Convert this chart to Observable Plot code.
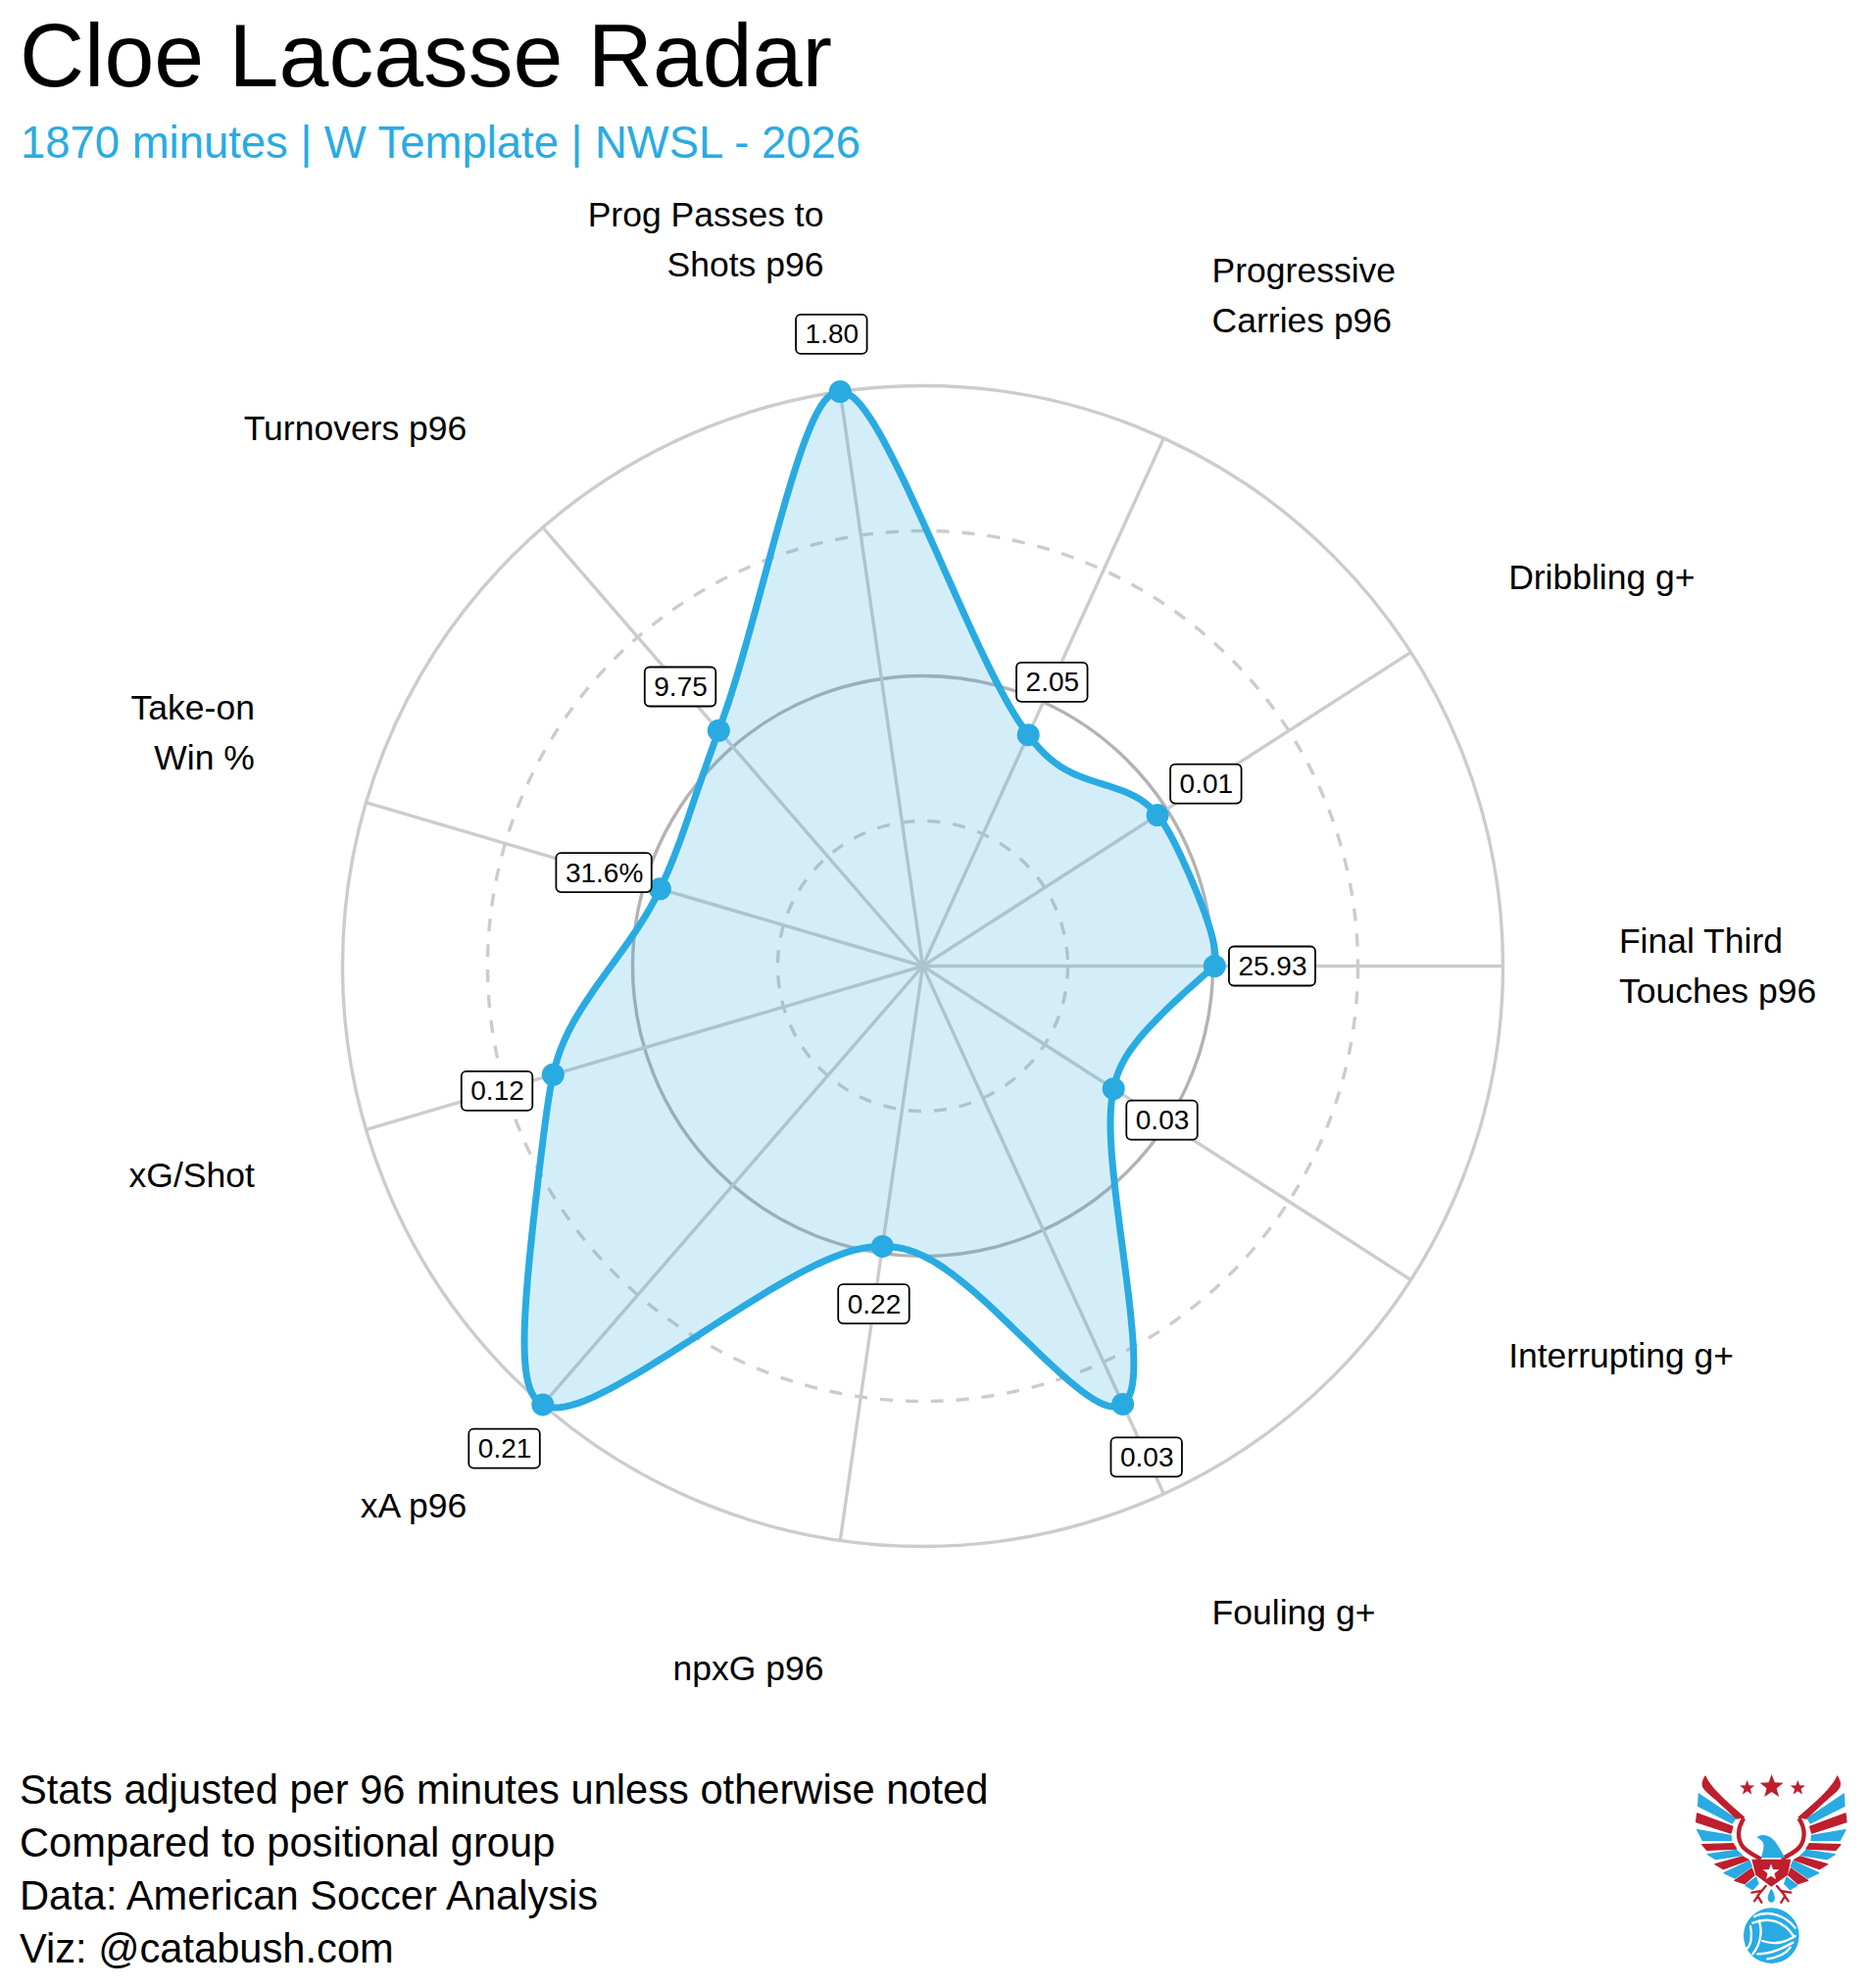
<!DOCTYPE html>
<html><head><meta charset="utf-8">
<script src="https://cdn.jsdelivr.net/npm/d3@7"></script>
<script src="https://cdn.jsdelivr.net/npm/@observablehq/plot@0.6"></script>
<style>
html,body{margin:0;padding:0;background:#fff;}
body{width:1908px;height:2028px;position:relative;overflow:hidden;font-family:"Liberation Sans",Arial,sans-serif;color:#000;}
#title{position:absolute;left:20px;top:4px;font-size:91.5px;line-height:105px;white-space:nowrap;}
#subtitle{position:absolute;left:21px;top:118px;font-size:45.45px;line-height:56px;color:#29ABE2;white-space:nowrap;}
#chart{position:absolute;left:0;top:190px;}
#caption{position:absolute;left:20px;top:1799px;font-size:41.65px;line-height:54px;white-space:pre;}
#logo{position:absolute;left:1680px;top:1780px;}
svg{display:block;}
</style></head><body>
<div id="title">Cloe Lacasse Radar</div>
<div id="subtitle">1870 minutes | W Template | NWSL - 2026</div>
<div id="chart"></div>
<div id="caption"></div>
<div id="logo"></div>
<script>
const categories = ["Final Third\nTouches p96","Dribbling g+","Progressive\nCarries p96","Prog Passes to\nShots p96","Turnovers p96","Take-on\nWin %","xG/Shot","xA p96","npxG p96","Fouling g+","Interrupting g+"];
const percentiles = [50.3,48.1,43.8,100,53.7,47.2,66.4,100,48.8,83,39.1];
const valueLabels = ["25.93","0.01","2.05","1.80","9.75","31.6%","0.12","0.21","0.22","0.03","0.03"];
const ringLevels = [25,50,75,100];
const captionLines = ["Stats adjusted per 96 minutes unless otherwise noted","Compared to positional group","Data: American Soccer Analysis","Viz: @catabush.com"];
document.getElementById("caption").textContent = captionLines.join("\n");

const W=1908,H=1600,CX=941,CY=795,PX=5.92; // px per percentile unit
const FONT='"Liberation Sans",Arial,sans-serif';
const BLUE="#29ABE2";
const n=categories.length;
const ang=i=>2*Math.PI*i/n;
const px=(r,i)=>r*Math.cos(ang(i));
const py=(r,i)=>r*Math.sin(ang(i));
const rows=categories.map((c,i)=>({i,cat:c,v:percentiles[i],label:valueLabels[i]}));
const loop=[...rows,rows[0]];

const ctx=document.createElement("canvas").getContext("2d");
ctx.font='28px "Liberation Sans"';
const halfW=s=>(ctx.measureText(s).width+18)/2/PX;
const halfH=20/PX;

const LABEL_R=120, VALUE_OFF=10;
const catMark=(ids,textAnchor,lineAnchor,dy)=>Plot.text(rows.filter(d=>ids.includes(d.i)),{
  x:d=>px(LABEL_R,d.i),y:d=>py(LABEL_R,d.i),text:"cat",textAnchor,lineAnchor,dy,
  fontSize:35.5,fontFamily:FONT,lineHeight:1.44,fill:"#000"});

// X-spline curve factory (Blanc & Schlick). The closing point is smooth on the
// first segment (it wraps to the previous point) and open on the last one.
const xspline=shape=>context=>{
  const fb=(a,b)=>{const p=2*b*b,u=a/b,u2=u*u;return u*u2*(10-p+(2*p-15)*u+(6-p)*u2);};
  const gb=(u,q)=>u*(q+u*(2*q+u*(8-12*q+u*(14*q-11+u*(4-5*q)))));
  const hb=(u,q)=>{const u2=u*u;return u*(q+u*(2*q+u2*(-2*q-u*q)));};
  let pts=[];
  return {
    lineStart(){pts=[];},
    point(x,y){pts.push([+x,+y]);},
    lineEnd(){
      const m=pts.length;
      const P=i=>i<0?pts[m-2]:pts[Math.min(m-1,i)];
      const S=i=>i>=m-1?0:shape;
      context.moveTo(pts[0][0],pts[0][1]);
      for(let k=0;k<m-1;k++){
        const p0=P(k-1),p1=P(k),p2=P(k+1),p3=P(k+2),s1=S(k),s2=S(k+1);
        for(let j=1;j<=40;j++){
          const t=j/40;let A0,A1,A2,A3;
          if(s1<0){A0=hb(-t,-s1);A2=gb(t,-s1);}
          else{A0=0;A2=fb(t,1);}
          if(s2<0){A1=gb(1-t,-s2);A3=hb(t-1,-s2);}
          else{A1=fb(t-1,-1);A3=0;}
          const sum=A0+A1+A2+A3;
          context.lineTo((A0*p0[0]+A1*p1[0]+A2*p2[0]+A3*p3[0])/sum,(A0*p0[1]+A1*p1[1]+A2*p2[1]+A3*p3[1])/sum);
        }
      }
    }
  };
};
const curve=xspline(-0.42);

const plot=Plot.plot({
  width:W,height:H,margin:0,
  x:{domain:[-CX/PX,(W-CX)/PX],axis:null},
  y:{domain:[-(H-CY)/PX,CY/PX],axis:null},
  r:{type:"linear",domain:[0,100],range:[0,100*PX]},
  marks:[
    Plot.dot(ringLevels.filter(d=>d===100),{x:()=>0,y:()=>0,r:d=>d,stroke:"#cccccc",strokeWidth:3.4,fill:"none"}),
    Plot.dot(ringLevels.filter(d=>d===50),{x:()=>0,y:()=>0,r:d=>d,stroke:"#b3b3b3",strokeWidth:3.4,fill:"none"}),
    Plot.dot(ringLevels.filter(d=>d===25||d===75),{x:()=>0,y:()=>0,r:d=>d,stroke:"#cccccc",strokeWidth:3.4,strokeDasharray:"13 13",fill:"none"}),
    Plot.link(rows,{x1:()=>0,y1:()=>0,x2:d=>px(100,d.i),y2:d=>py(100,d.i),stroke:"#cccccc",strokeWidth:3.4}),
    Plot.line(loop,{x:d=>px(d.v,d.i),y:d=>py(d.v,d.i),curve,fill:BLUE,fillOpacity:0.2,stroke:"none"}),
    Plot.line(loop,{x:d=>px(d.v,d.i),y:d=>py(d.v,d.i),curve,stroke:BLUE,strokeWidth:7}),
    Plot.dot(rows,{x:d=>px(d.v,d.i),y:d=>py(d.v,d.i),r:11.5,fill:BLUE}),
    Plot.rect(rows,{x1:d=>px(d.v+VALUE_OFF,d.i)-halfW(d.label),x2:d=>px(d.v+VALUE_OFF,d.i)+halfW(d.label),
      y1:d=>py(d.v+VALUE_OFF,d.i)-halfH,y2:d=>py(d.v+VALUE_OFF,d.i)+halfH,dy:0.5,
      rx:5,fill:"#fff",stroke:"#000",strokeWidth:1.8}),
    Plot.text(rows,{x:d=>px(d.v+VALUE_OFF,d.i),y:d=>py(d.v+VALUE_OFF,d.i),dy:0.5,text:"label",fontSize:28,fontFamily:FONT,fill:"#000"}),
    catMark([0],"start","middle",-4),
    catMark([1,2],"start","bottom",0),
    catMark([3,4,5],"end","bottom",0),
    catMark([6,7,8],"end","top",-11),
    catMark([9,10],"start","top",-11)
  ]
});
document.getElementById("chart").appendChild(plot);

// Logo (decorative)
const RED="#BE1E2D",LB="#29ABE2";
const star=(cx,cy,R,fill)=>{let p=[];for(let k=0;k<10;k++){const r=k%2?R*0.42:R,a=-Math.PI/2+k*Math.PI/5;p.push((cx+r*Math.cos(a)).toFixed(1)+","+(cy+r*Math.sin(a)).toFixed(1));}return `<polygon points="${p.join(" ")}" fill="${fill}"/>`;};
const feathers=[
 [LB,"160,150 272,225 262,240 158,187"],
 [RED,"155,210 264,250 258,270 152,236"],
 [LB,"155,260 258,277 260,293 172,292"],
 [RED,"170,305 265,302 275,318 185,322"],
 [LB,"187,335 275,322 292,338 212,350"],
 [RED,"210,365 295,342 312,352 235,380"],
 [LB,"237,392 315,355 322,372 270,408"],
 [RED,"270,415 322,378 330,398 300,425"],
 [LB,"303,430 335,405 342,425 325,443"]];
const half=feathers.map(([c,p])=>`<polygon points="${p}" fill="${c}" stroke="${c}" stroke-width="4" stroke-linejoin="round"/>`).join("")+
 `<path d="M180,95 C160,130 175,135 215,170 L275,226 L300,222 C240,170 195,130 180,95Z" fill="${RED}" stroke="${RED}" stroke-width="3"/>`+
 `<path d="M298,225 C280,250 275,285 295,312 C310,330 335,340 350,350" fill="none" stroke="${RED}" stroke-width="13"/>`+
 `<path d="M365,432 L340,462 M352,447 L322,452 M346,455 L330,478 M340,462 L352,482" fill="none" stroke="${RED}" stroke-width="7" stroke-linecap="round"/>`;
const ballStripes=["M330,525 C370,505 425,520 455,560","M325,545 C375,525 420,540 450,585","M345,540 C355,570 350,610 325,640","M318,555 C325,585 320,615 305,625","M355,600 C400,615 430,600 455,585","M340,640 C385,640 420,620 448,605","M370,655 C405,650 430,635 440,620"];
document.getElementById("logo").innerHTML=`<svg width="228" height="248" viewBox="0 0 684 744">
<g>${half}</g><g transform="translate(764,0) scale(-1,1)">${half}</g>
${star(308,132,24,RED)}${star(383,128,38,RED)}${star(463,132,24,RED)}
<path d="M338,282 C360,268 385,280 400,305 C410,320 418,335 424,346 L350,346 C358,325 362,305 354,295 Z" fill="${LB}"/>
<path d="M322,350 L442,350 L432,398 L382,434 L334,398 Z" fill="${RED}"/>
${star(381,390,26,"#fff")}
<path d="M382,440 C395,458 398,480 382,482 C366,480 369,458 382,440Z" fill="${LB}"/>
<circle cx="382" cy="584" r="85" fill="${LB}"/>
${ballStripes.map(d=>`<path d="${d}" fill="none" stroke="#fff" stroke-width="7" stroke-linecap="round"/>`).join("")}
</svg>`;
</script>
</body></html>
